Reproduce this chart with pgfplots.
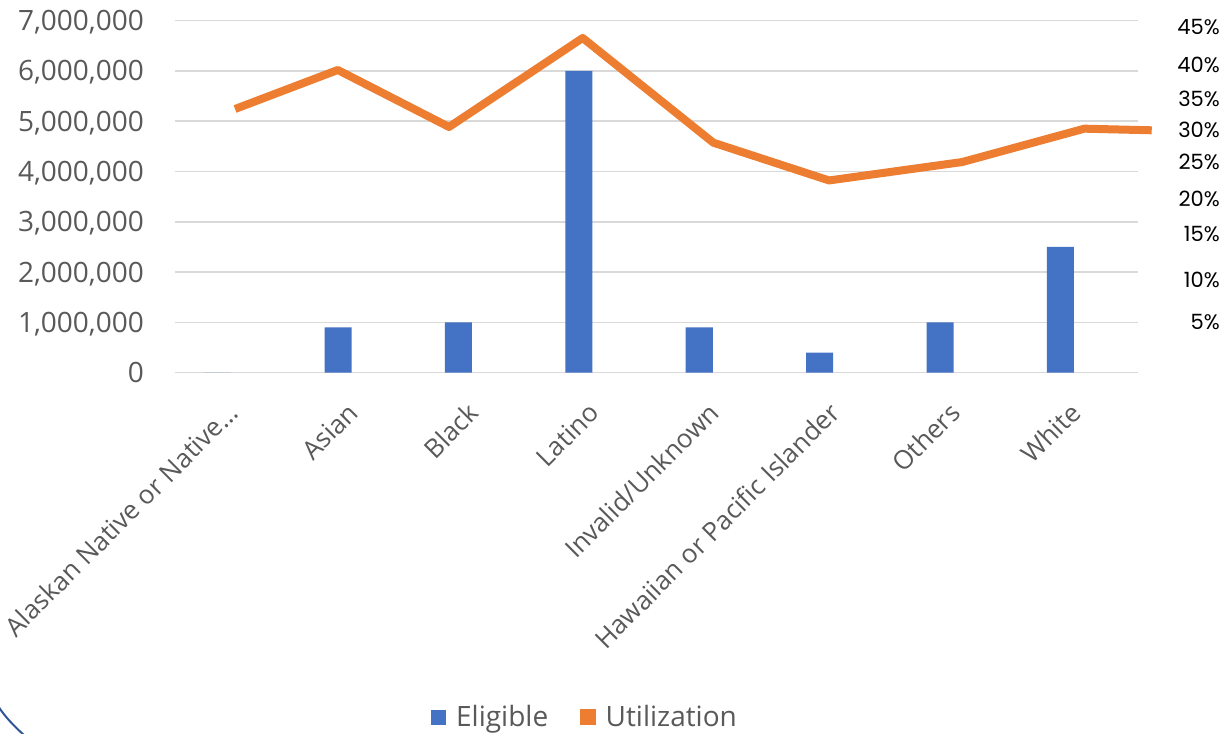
\documentclass[border=0pt]{standalone}
\usepackage{fontspec}
\setmainfont{Open Sans}
\newfontfamily\pctfont{Poppins}
\usepackage{pgfplots}
\pgfplotsset{compat=1.18}
\definecolor{barblue}{HTML}{4472C4}
\definecolor{lineorange}{HTML}{ED7D31}
\definecolor{gridgrey}{HTML}{D9D9D9}
\definecolor{textgrey}{HTML}{595959}
\definecolor{arcblue}{HTML}{2F5597}
\begin{document}
\begin{tikzpicture}[x=1pt,y=1pt]
\useasboundingbox (0,0) rectangle (1227,734);
\draw[arcblue, line width=2pt] (-2,28) .. controls (6,16) and (14,8) .. (25,-2);
\begin{axis}[
  at={(175pt,361.3pt)}, anchor=south west,
  scale only axis, width=963pt, height=352.2pt,
  xmin=-0.354, xmax=7.644, ymin=0, ymax=7000000,
  scaled y ticks=false,
  axis line style={draw=none},
  major tick length=0pt,
  ymajorgrids, grid style={gridgrey, line width=1.5pt},
  ytick={0,1000000,2000000,3000000,4000000,5000000,6000000,7000000},
  yticklabels={0,{1,000,000},{2,000,000},{3,000,000},{4,000,000},{5,000,000},{6,000,000},{7,000,000}},
  yticklabel style={anchor=base east, inner sep=0pt, xshift=-31pt, yshift=-10pt,
    font=\fontsize{28}{34}\selectfont, text=textgrey},
  xtick={0.183,1.183,2.183,3.183,4.183,5.183,6.183,7.183},
  xticklabels={Alaskan Native or Native…,Asian,Black,Latino,Invalid/Unknown,Hawaiian or Pacific Islander,Others,White},
  xticklabel style={rotate=45, anchor=base east, inner sep=0pt,
    font=\fontsize{26}{30}\selectfont, text=textgrey},
  xticklabel shift=42pt,
  legend style={at={(0.4258,-0.9776)}, anchor=center, draw=none, fill=none,
    legend columns=2, font=\fontsize{28}{34}\selectfont, text=textgrey,
    inner sep=0pt,
    /tikz/every odd column/.append style={column sep=8pt},
    /tikz/every even column/.append style={column sep=30pt}},
  legend cell align=left,
]
\addplot[ybar, bar width=27pt, fill=barblue, draw=none,
  legend image code/.code={\fill[barblue] (0pt,-7.5pt) rectangle (15pt,7.5pt);}]
  coordinates {(0,0) (1,900000) (2,1000000) (3,6000000) (4,900000) (5,400000) (6,1000000) (7,2500000)};
\addlegendentry{Eligible}
\addlegendimage{legend image code/.code={\fill[lineorange] (0pt,-7.5pt) rectangle (15pt,7.5pt);}}
\addlegendentry{Utilization}
\end{axis}
\begin{axis}[
  at={(175pt,361.3pt)}, anchor=south west,
  scale only axis, width=963pt, height=352.2pt,
  xmin=-0.354, xmax=7.644, ymin=-1.92, ymax=45.84,
  axis line style={draw=none},
  major tick length=0pt,
  clip=false,
  xtick=\empty,
  ytick={45,39.81,35.20,30.99,26.69,21.64,16.89,10.65,5.0},
  yticklabels={45\%,40\%,35\%,30\%,25\%,20\%,15\%,10\%,5\%},
  yticklabel pos=right,
  yticklabel style={anchor=east, inner sep=0pt, xshift=82pt,
    font=\pctfont\fontsize{21}{26}\selectfont, text=black},
]
\addplot[lineorange, line width=8pt, line join=round, line cap=butt]
  coordinates {(0.145,33.84) (0.998,39.13) (1.922,31.4) (3.032,43.47) (4.117,29.27) (5.078,24.15) (6.185,26.65) (7.198,31.17) (7.758,30.95)};
\end{axis}
\end{tikzpicture}
\end{document}
